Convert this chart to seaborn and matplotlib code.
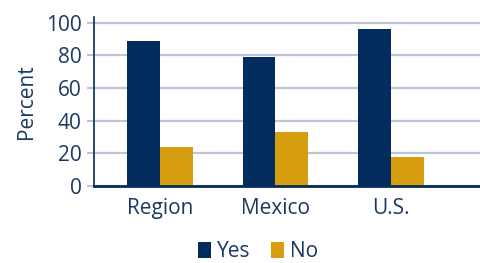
import matplotlib
matplotlib.use('Agg')
import matplotlib.pyplot as plt
import seaborn as sns
import pandas as pd

categories = ['Region', 'Mexico', 'U.S.']
yes_values = [89, 79, 96]
no_values = [24, 33, 18]
series = ['Yes', 'No']
yticks = [0, 20, 40, 60, 80, 100]

navy = '#022c5d'
gold = '#d69e0f'
grid_col = '#bcc5d3'
text_col = '#1c3862'

df = pd.DataFrame({
    'category': categories * 2,
    'series': ['Yes'] * len(categories) + ['No'] * len(categories),
    'value': yes_values + no_values,
})

sns.set_style('white')
plt.rcParams['font.family'] = ['Open Sans', 'DejaVu Sans']

fig = plt.figure(figsize=(4.8, 2.63), dpi=100)
ax = fig.add_axes([0.196, 0.293, 0.804, 0.642])

sns.barplot(data=df, x='category', y='value', hue='series', hue_order=series,
            palette=[navy, gold], width=0.57, saturation=1, linewidth=0,
            ax=ax, legend=True)

ax.set_ylim(0, 103.5)
ax.set_xlim(-0.57, 2.77)
ax.set_yticks(yticks)
ax.yaxis.grid(True, color=grid_col, linewidth=1.6)
ax.set_axisbelow(True)

for side in ['top', 'right']:
    ax.spines[side].set_visible(False)
ax.spines['left'].set_color(navy)
ax.spines['left'].set_linewidth(1.2)
ax.spines['bottom'].set_color(navy)
ax.spines['bottom'].set_linewidth(2)
ax.spines['bottom'].set_zorder(5)

ax.tick_params(axis='y', length=5, width=1.5, color=grid_col, pad=4,
               labelsize=15, labelcolor=text_col, left=True)
ax.tick_params(axis='x', length=0, pad=9, labelsize=15, labelcolor=text_col)

ax.set_xlabel('')
ax.set_ylabel('Percent', fontsize=15, color=text_col, labelpad=6)

ax.legend(loc='center', bbox_to_anchor=(0.425, -0.39), ncol=2, frameon=False,
          fontsize=15, handlelength=0.65, handleheight=0.8, handletextpad=0.3,
          columnspacing=0.95, labelcolor=text_col, borderaxespad=0, borderpad=0)

fig.savefig('out.png', dpi=100)
